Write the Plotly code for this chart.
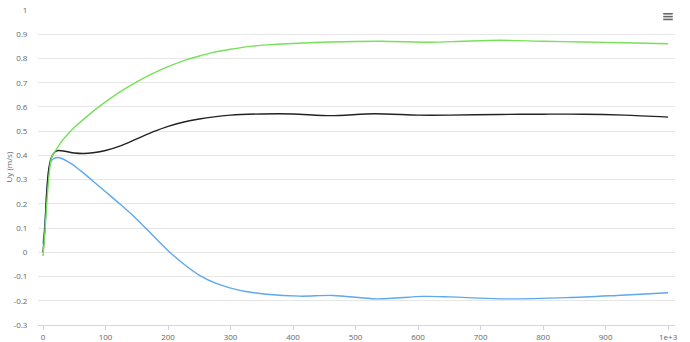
import plotly.graph_objects as go

# ---- data ----
green_x = [0, 3, 6, 9, 12, 15, 21, 30, 40, 50, 69, 85, 100, 122, 150, 175, 200, 229, 250, 271, 300, 335, 370, 400, 460, 540, 620, 670, 730, 800, 865, 930, 1000]
green_y = [-0.015, 0.08, 0.2, 0.3, 0.37, 0.40, 0.424, 0.458, 0.488, 0.515, 0.558, 0.592, 0.621, 0.66, 0.703, 0.737, 0.766, 0.794, 0.81, 0.824, 0.838, 0.851, 0.858, 0.862, 0.868, 0.871, 0.867, 0.871, 0.875, 0.871, 0.868, 0.865, 0.861]

black_x = [0, 3, 6, 9, 12, 15, 20, 25, 35, 50, 65, 80, 100, 125, 150, 175, 200, 250, 300, 350, 400, 460, 530, 600, 650, 730, 800, 865, 930, 1000]
black_y = [0.0, 0.1, 0.25, 0.34, 0.38, 0.40, 0.416, 0.42, 0.417, 0.41, 0.408, 0.411, 0.42, 0.44, 0.468, 0.496, 0.52, 0.55, 0.566, 0.571, 0.571, 0.564, 0.572, 0.566, 0.566, 0.569, 0.57, 0.57, 0.566, 0.558]

blue_x = [0, 3, 6, 9, 12, 16, 23, 30, 45, 60, 85, 100, 120, 145, 170, 198, 225, 251, 278, 315, 358, 411, 464, 534, 608, 651, 731, 838, 918, 1000]
blue_y = [0.035, 0.12, 0.25, 0.33, 0.37, 0.385, 0.391, 0.387, 0.366, 0.337, 0.283, 0.25, 0.206, 0.149, 0.085, 0.012, -0.048, -0.096, -0.129, -0.157, -0.173, -0.181, -0.178, -0.192, -0.182, -0.184, -0.192, -0.187, -0.178, -0.167]

y_ticks = [-0.3, -0.2, -0.1, 0, 0.1, 0.2, 0.3, 0.4, 0.5, 0.6, 0.7, 0.8, 0.9, 1]
y_labels = ["-0.3", "-0.2", "-0.1", "0", "0.1", "0.2", "0.3", "0.4", "0.5", "0.6", "0.7", "0.8", "0.9", "1"]
x_ticks = [0, 100, 200, 300, 400, 500, 600, 700, 800, 900, 1000]
x_labels = ["0", "100", "200", "300", "400", "500", "600", "700", "800", "900", "1e+3"]

FONT = "Open Sans, Roboto, sans-serif"

fig = go.Figure()
fig.add_trace(go.Scatter(x=blue_x, y=blue_y, mode="lines", line=dict(color="#5ea8ee", width=1.4, shape="spline", smoothing=0.9), hoverinfo="x+y", showlegend=False))
fig.add_trace(go.Scatter(x=black_x, y=black_y, mode="lines", line=dict(color="#222222", width=1.4, shape="spline", smoothing=0.8), hoverinfo="x+y", showlegend=False))
fig.add_trace(go.Scatter(x=green_x, y=green_y, mode="lines", line=dict(color="#77e05a", width=1.4, shape="spline", smoothing=0.8), hoverinfo="x+y", showlegend=False))

fig.update_layout(
    width=690, height=342,
    margin=dict(l=38, r=15, t=10, b=17),
    paper_bgcolor="white", plot_bgcolor="white",
    font=dict(family=FONT, size=8, color="#666666"),
    xaxis=dict(
        range=[-8, 1011], tickvals=x_ticks, ticktext=x_labels,
        showgrid=False, zeroline=False, automargin=False,
        showline=True, linecolor="#ccd6eb", linewidth=1,
        ticks="outside", ticklen=4, tickcolor="#ccd6eb",
        tickfont=dict(size=8, color="#666666"),
    ),
    yaxis=dict(
        range=[-0.3, 1], tickvals=y_ticks, ticktext=y_labels,
        showgrid=True, gridcolor="#e6e6e6", gridwidth=1,
        zeroline=False, showline=False, automargin=False,
        ticks="outside", ticklen=8, tickcolor="rgba(0,0,0,0)",
        tickfont=dict(size=8, color="#666666"),
    ),
    annotations=[dict(
        text="Uy (m/s)", xref="paper", yref="paper", x=0, y=0.5,
        xanchor="center", yanchor="middle", xshift=-30, textangle=-90,
        showarrow=False, font=dict(size=8, color="#666666"),
    )],
)

# hamburger menu icon (decoration)
for yy in [0.988, 0.979, 0.970]:
    fig.add_shape(type="line", xref="paper", yref="paper",
                  x0=0.9815, x1=0.9965, y0=yy, y1=yy,
                  line=dict(color="#666666", width=1.6))

fig.write_html("out.html")
